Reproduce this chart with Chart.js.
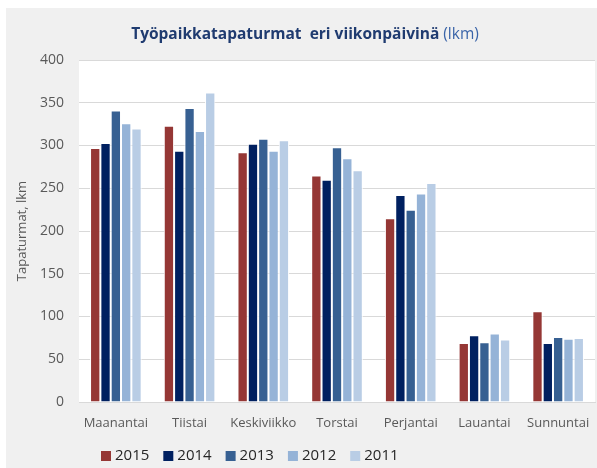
<!DOCTYPE html>
<html>
<head>
<meta charset="utf-8">
<script src="https://cdn.jsdelivr.net/npm/chart.js@4"></script>
<style>
  html, body { margin: 0; padding: 0; background: #fff; }
  #wrap { width: 597px; height: 468px; }
</style>
</head>
<body>
<div id="wrap"><canvas id="chart" width="597" height="468"></canvas></div>
<script>
const days = ['Maanantai', 'Tiistai', 'Keskiviikko', 'Torstai', 'Perjantai', 'Lauantai', 'Sunnuntai'];
const years = ['2015', '2014', '2013', '2012', '2011'];
const v2015 = [297, 323, 292, 265, 215, 69, 106];
const v2014 = [303, 294, 302, 260, 242, 78, 69];
const v2013 = [341, 344, 308, 298, 225, 70, 76];
const v2012 = [326, 317, 294, 285, 244, 80, 74];
const v2011 = [320, 362, 306, 271, 256, 73, 75];
const yMax = 400;
const yStep = 50;
const colors = ['#953735', '#002060', '#376092', '#95b3d7', '#b9cde5'];

const FONT = '"Open Sans", "Noto Sans", sans-serif';

// grey chart background, white plot area
const backdrop = {
    id: 'backdrop',
    beforeDraw(chart) {
        const {ctx, chartArea: a} = chart;
        ctx.save();
        ctx.fillStyle = '#fff';
        ctx.fillRect(0, 0, chart.width, chart.height);
        ctx.fillStyle = '#f0f0f0';
        ctx.fillRect(6, 8, chart.width - 6, chart.height - 8);
        ctx.fillStyle = '#fff';
        ctx.fillRect(a.left, a.top, a.right - a.left, a.bottom - a.top);
        ctx.restore();
    }
};

// title with a bold part and a plain part
const titleParts = {
    id: 'titleParts',
    afterDraw(chart) {
        const ctx = chart.ctx;
        const bold = 'Työpaikkatapaturmat  eri viikonpäivinä';
        const plain = ' (lkm)';
        ctx.save();
        ctx.textBaseline = 'middle';
        ctx.font = 'bold 15.5px ' + FONT;
        const w1 = ctx.measureText(bold).width;
        ctx.font = '15.5px ' + FONT;
        const w2 = ctx.measureText(plain).width;
        let x = 305 - (w1 + w2) / 2;
        ctx.font = 'bold 15.5px ' + FONT;
        ctx.fillStyle = '#1f3b70';
        ctx.fillText(bold, x, 35);
        ctx.font = '15.5px ' + FONT;
        ctx.fillStyle = '#3a64a8';
        ctx.fillText(plain, x + w1, 35);
        ctx.restore();
    }
};

// legend drawn under the axis
const bottomLegend = {
    id: 'bottomLegend',
    afterDraw(chart) {
        const ctx = chart.ctx;
        ctx.save();
        ctx.font = '15px ' + FONT;
        ctx.textBaseline = 'middle';
        let x = 101;
        const y = 456;
        chart.data.datasets.forEach(ds => {
            ctx.fillStyle = ds.backgroundColor;
            ctx.fillRect(x, y - 5, 10, 10);
            ctx.fillStyle = '#262626';
            ctx.fillText(ds.label, x + 14, y);
            x += 14 + ctx.measureText(ds.label).width + 14;
        });
        ctx.restore();
    }
};

const series = [v2015, v2014, v2013, v2012, v2011];

new Chart(document.getElementById('chart'), {
    type: 'bar',
    data: {
        labels: days,
        datasets: years.map((y, i) => ({
            label: y,
            data: series[i],
            backgroundColor: colors[i],
            borderColor: '#fff',
            borderWidth: 1,
            categoryPercentage: 0.7,
            barPercentage: 1
        }))
    },
    options: {
        responsive: false,
        animation: false,
        layout: {
            padding: {left: 14, right: 2, top: 60, bottom: 34}
        },
        plugins: {
            legend: {display: false},
            title: {display: false},
            tooltip: {enabled: false}
        },
        scales: {
            x: {
                grid: {display: false},
                border: {display: true, color: '#d9d9d9'},
                ticks: {
                    color: '#595959',
                    font: {family: FONT, size: 13},
                    padding: 5,
                    maxRotation: 0
                },
                afterFit(s) { s.height = 32; }
            },
            y: {
                min: 0,
                max: yMax,
                grid: {color: '#d9d9d9', drawTicks: false},
                border: {display: false},
                ticks: {
                    stepSize: yStep,
                    color: '#595959',
                    font: {family: FONT, size: 14},
                    padding: 15
                },
                title: {
                    display: true,
                    text: 'Tapaturmat, lkm',
                    color: '#595959',
                    font: {family: FONT, size: 13},
                    padding: 0
                },
                afterFit(s) { s.width = 65; }
            }
        }
    },
    plugins: [backdrop, titleParts, bottomLegend]
});
</script>
</body>
</html>
